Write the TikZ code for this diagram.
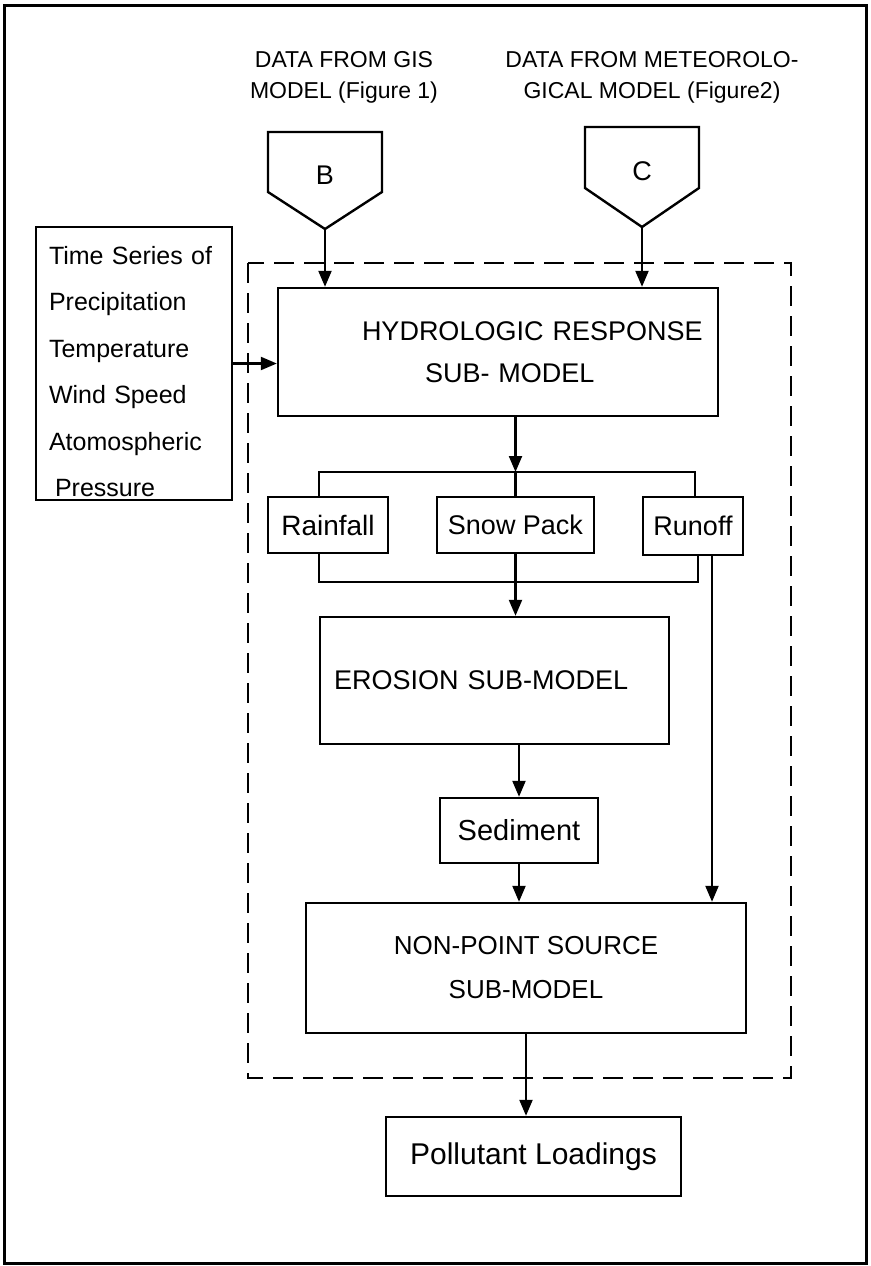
\documentclass[tikz,border=0pt]{standalone}
\usepackage{fontspec}
\setmainfont{Liberation Sans}
\usetikzlibrary{arrows.meta,positioning}

\begin{document}
\begin{tikzpicture}[x=1pt,y=-1pt,>={Triangle[length=16pt,width=13pt]},
    line width=2.2pt,
    box/.style={draw,line width=2.4pt,inner sep=0pt,
                font=\fontsize{27}{42}\selectfont},
    head/.style={align=center,inner sep=0pt,
                font=\fontsize{23}{31}\selectfont}]
    \useasboundingbox (0,0) rectangle (870,1266);
    \draw[line width=3pt] (4,5) rectangle (866,1263);
    % data sources
    \node[head] (gislbl) at (344,77) {DATA FROM GIS\\MODEL (Figure 1)};
    \node[head] (metlbl) at (652,77) {DATA FROM METEOROLO-\\GICAL MODEL (Figure2)};
    \coordinate (gistip) at (325,229);
    \coordinate (mettip) at (642,227);
    \draw[line width=2.4pt] (268,132) -- (382,132) -- (382,192) -- (gistip) -- (268,192) -- cycle;
    \draw[line width=2.4pt] (585,127) -- (699,127) -- (699,188) -- (mettip) -- (585,188) -- cycle;
    \node[font=\fontsize{27}{30}\selectfont] (gisB) at (325,175) {B};
    \node[font=\fontsize{27}{30}\selectfont] (metC) at (642,171) {C};
    \node[box,minimum width=196pt,minimum height=273pt,text width=170pt,align=left,
          font=\fontsize{25}{46.5}\selectfont] (series) at (134,363.5)
          {\rule{0pt}{34pt}Time Series of\\Precipitation\\Temperature\\Wind Speed\\Atomospheric\\\hspace*{6pt}Pressure};
    % model
    \draw[line width=2.4pt,dash pattern=on 20pt off 10pt] (248,263) rectangle (791,1078);
    \node[box,minimum width=440pt,minimum height=128pt,text width=440pt,align=left] (hyd) at (498,352)
          {\hspace*{84pt}HYDROLOGIC RESPONSE\\\hspace*{147pt}SUB- MODEL};
    \node[box,minimum width=120pt,minimum height=56pt,font=\fontsize{28}{30}\selectfont] (rain) at (328,525) {Rainfall};
    \node[box,minimum width=157pt,minimum height=56pt] (snow) at (515.5,525) {Snow Pack};
    \node[box,minimum width=100pt,minimum height=58pt] (runoff) at (693,526) {Runoff};
    \node[box,minimum width=349pt,minimum height=127pt,text width=349pt,align=left] (ero) at (494.5,680.5)
          {\hspace*{14pt}EROSION SUB-MODEL};
    \node[box,minimum width=158pt,minimum height=65pt,font=\fontsize{29}{30}\selectfont] (sed) at (519,830.5) {Sediment};
    \node[box,minimum width=440pt,minimum height=130pt,align=center,
          font=\fontsize{26}{44}\selectfont] (nps) at (526,968) {NON-POINT SOURCE\\SUB-MODEL};
    \node[box,minimum width=295pt,minimum height=79pt,font=\fontsize{30}{32}\selectfont] (poll) at (533.5,1156.5) {Pollutant Loadings};
    % connectors
    \coordinate (tl) at (319,472);
    \coordinate (tr) at (695,472);
    \coordinate (bl) at (319,582);
    \coordinate (br) at (698,582);
    \coordinate (rx) at (712,0);
    \draw[->] (gistip) -- (gistip |- hyd.north);
    \draw[->] (mettip) -- (mettip |- hyd.north);
    \draw[->] (series.east) -- (series.east -| hyd.west);
    \draw[->] (hyd.south -| snow.north) -- (snow.north |- tl);
    \draw (rain.north -| tl) -- (tl) -- (tr) -- (runoff.north -| tr);
    \draw (snow.north |- tl) -- (snow.north);
    \draw (rain.south -| bl) -- (bl) -- (br) -- (runoff.south -| br);
    \draw[->] (snow.south) -- (snow.south |- ero.north);
    \draw[->] (ero.south -| sed.north) -- (sed.north);
    \draw[->] (sed.south) -- (sed.south |- nps.north);
    \draw[->] (runoff.south -| rx) -- (rx |- nps.north);
    \draw[->] (nps.south) -- (nps.south |- poll.north);
\end{tikzpicture}
\end{document}
